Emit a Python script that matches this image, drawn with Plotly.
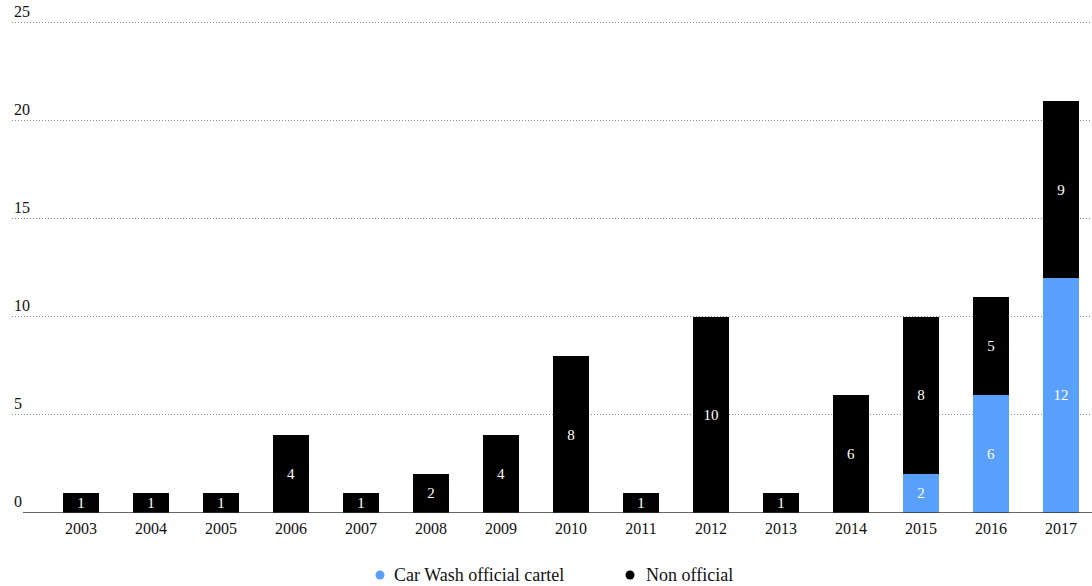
import plotly.graph_objects as go

# Cartel cases per year
years = ["2003", "2004", "2005", "2006", "2007", "2008", "2009", "2010",
         "2011", "2012", "2013", "2014", "2015", "2016", "2017"]
official = [0, 0, 0, 0, 0, 0, 0, 0, 0, 0, 0, 0, 2, 6, 12]
non_official = [1, 1, 1, 4, 1, 2, 4, 8, 1, 10, 1, 6, 8, 5, 9]
y_ticks = [0, 5, 10, 15, 20, 25]
series_names = ["Car Wash official cartel", "Non official"]

BLUE = "#58a0fb"
BLACK = "#000000"
FONT = "Liberation Serif"
TEXT = "#111111"


def labels(values):
    return [str(v) if v > 0 else "" for v in values]


fig = go.Figure()

for name, values, color in [(series_names[0], official, BLUE),
                            (series_names[1], non_official, BLACK)]:
    fig.add_trace(go.Bar(
        x=years, y=values, name=name,
        marker=dict(color=color, line=dict(width=0)),
        text=labels(values), textposition="inside", insidetextanchor="middle",
        textangle=0, textfont=dict(color="#ffffff", size=15, family=FONT),
        showlegend=False, hoverinfo="skip",
    ))

# Page geometry (pixels)
W, H = 1092, 586
L, R, T, B = 12, 0, 21, 73
PW, PH = W - L - R, H - T - B


def px_x(px):
    return (px - L) / PW


def px_y(py):
    return (H - B - py) / PH


annotations = []
shapes = []

# Y tick labels sit just above their gridlines, flush left
for v in y_ticks:
    annotations.append(dict(
        text=str(v), xref="paper", yref="y", x=0, y=v,
        xanchor="left", yanchor="bottom", yshift=1, showarrow=False,
        font=dict(size=16, family=FONT, color=TEXT),
    ))

# Baseline
shapes.append(dict(
    type="line", xref="paper", yref="y",
    x0=px_x(23), x1=1, y0=0, y1=0,
    line=dict(color="#333", width=1.5), layer="above",
))

# Legend: round swatch + label
legend_y = px_y(575)
for name, color, dot_px, text_px in [(series_names[0], BLUE, 380, 392),
                                     (series_names[1], BLACK, 630, 644)]:
    shapes.append(dict(
        type="circle", xref="paper", yref="paper",
        xsizemode="pixel", ysizemode="pixel",
        xanchor=px_x(dot_px), yanchor=legend_y,
        x0=-4.5, x1=4.5, y0=-4.5, y1=4.5,
        fillcolor=color, line=dict(width=0),
    ))
    annotations.append(dict(
        text=name, xref="paper", yref="paper",
        x=px_x(text_px), y=legend_y, xanchor="left", yanchor="middle",
        showarrow=False, font=dict(size=18, family=FONT, color=TEXT),
    ))

fig.update_layout(
    width=W, height=H,
    barmode="stack", bargap=0.486,
    plot_bgcolor="white", paper_bgcolor="white",
    margin=dict(l=L, r=R, t=T, b=B, autoexpand=False),
    font=dict(family=FONT, size=16, color=TEXT),
    uniformtext=dict(mode="show", minsize=15),
    showlegend=False,
    xaxis=dict(
        type="category", range=[-0.986, 14.443],
        showgrid=False, showline=False, zeroline=False,
        ticks="", ticklabelstandoff=4,
        tickfont=dict(size=16, family=FONT, color=TEXT),
        fixedrange=True,
    ),
    yaxis=dict(
        range=[0, 25.1], tickvals=y_ticks, showticklabels=False,
        showgrid=True, gridcolor="#8c8c8c", griddash="1px,2px", gridwidth=1,
        zeroline=False, showline=False, ticks="",
        fixedrange=True,
    ),
    annotations=annotations,
    shapes=shapes,
)

fig.write_html("out.html")
